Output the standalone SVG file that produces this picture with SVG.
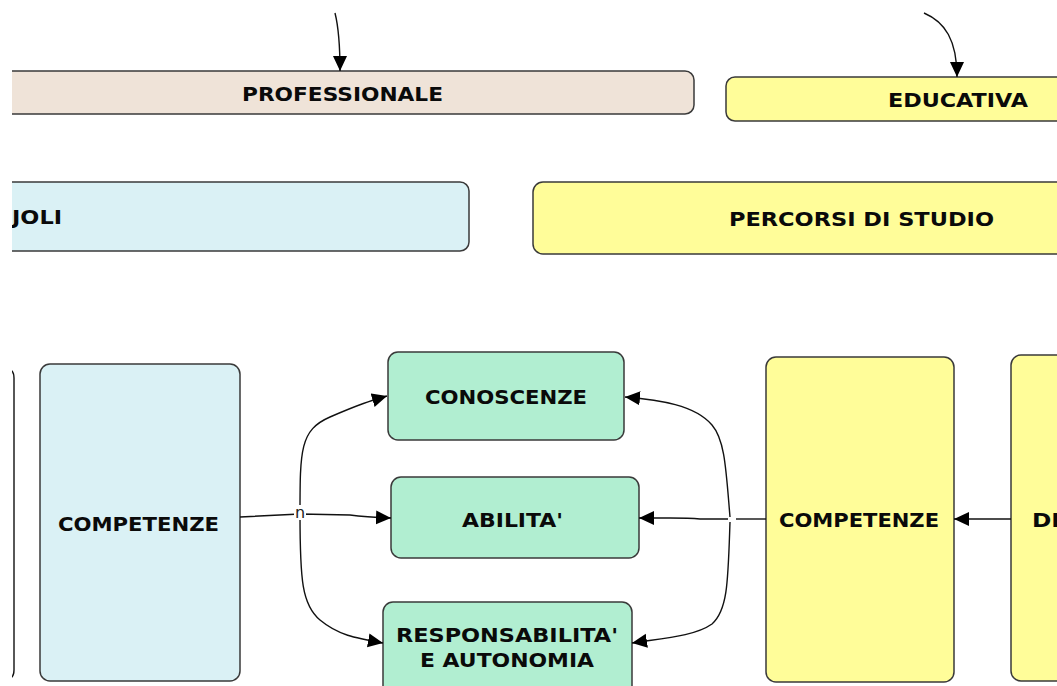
<svg xmlns="http://www.w3.org/2000/svg" width="1057" height="686" viewBox="0 0 1057 686">
<defs>
<clipPath id="clip"><rect x="12" y="0" width="1045" height="686"/></clipPath>
<marker id="arr" markerUnits="userSpaceOnUse" markerWidth="16" markerHeight="16" refX="15" refY="7" orient="auto">
<path d="M0,0 L15,7 L0,14 z" fill="#000"/>
</marker>
<style>
.box{stroke:#3a3a3a;stroke-width:1.5}
.beige{fill:#EFE3D8}
.blue{fill:#DAF1F5}
.yellow{fill:#FFFD99}
.mint{fill:#B1EED1}
.t{font-family:"DejaVu Sans",Verdana,sans-serif;font-weight:bold;font-size:20px;fill:#0a0a0a;text-anchor:middle}
.c{fill:none;stroke:#111;stroke-width:1.4}
</style>
</defs>
<rect width="1057" height="686" fill="#fff"/>
<g clip-path="url(#clip)">
<g id="professionale"><rect class="box beige" x="-100" y="71" width="794" height="43" rx="9"/><text class="t" x="342.5" y="101" textLength="201" lengthAdjust="spacingAndGlyphs">PROFESSIONALE</text></g>
<g id="educativa"><rect class="box yellow" x="726" y="77" width="400" height="44" rx="9"/><text class="t" x="958" y="107" textLength="140" lengthAdjust="spacingAndGlyphs">EDUCATIVA</text></g>
<g id="ruoli"><rect class="box blue" x="-100" y="182" width="569" height="69" rx="9"/><text class="t" x="37" y="224" textLength="50" lengthAdjust="spacingAndGlyphs">JOLI</text></g>
<g id="percorsi"><rect class="box yellow" x="533" y="182" width="600" height="72" rx="10"/><text class="t" x="861.5" y="226" textLength="265" lengthAdjust="spacingAndGlyphs">PERCORSI DI STUDIO</text></g>
<g id="leftcut"><path class="c" d="M8 369 Q14 370 14 378 L14 670 Q14 678 8 679"/></g>
<g id="competenze1"><rect class="box blue" x="40" y="364" width="200" height="317" rx="10"/><text class="t" x="138.5" y="531" textLength="161" lengthAdjust="spacingAndGlyphs">COMPETENZE</text></g>
<g id="conoscenze"><rect class="box mint" x="388" y="352" width="236" height="88" rx="10"/><text class="t" x="506" y="404" textLength="162" lengthAdjust="spacingAndGlyphs">CONOSCENZE</text></g>
<g id="abilita"><rect class="box mint" x="391" y="477" width="248" height="81" rx="10"/><text class="t" x="512.5" y="527" textLength="101" lengthAdjust="spacingAndGlyphs">ABILITA'</text></g>
<g id="responsabilita"><rect class="box mint" x="383" y="602" width="249" height="100" rx="10"/><text class="t" x="507" y="642" textLength="222" lengthAdjust="spacingAndGlyphs">RESPONSABILITA'</text><text class="t" x="507" y="667" textLength="174" lengthAdjust="spacingAndGlyphs">E AUTONOMIA</text></g>
<g id="competenze2"><rect class="box yellow" x="766" y="357" width="188" height="325" rx="10"/><text class="t" x="859" y="527" textLength="160" lengthAdjust="spacingAndGlyphs">COMPETENZE</text></g>
<g id="di"><rect class="box yellow" x="1011" y="355" width="200" height="326" rx="10"/><text class="t" x="1032" y="527" style="text-anchor:start" textLength="28" lengthAdjust="spacingAndGlyphs">DI</text></g>
<g id="connectors">
<path class="c" d="M335 13 C338 25 340 40 340 71" marker-end="url(#arr)"/>
<path class="c" d="M924 13 C945 22 957 40 957 77" marker-end="url(#arr)"/>
<path class="c" d="M240 517 L300 514 L350 515 Q365 517 391 518" marker-end="url(#arr)"/>
<path class="c" d="M300 514 C300 450 300 430 330 417 S370 401 387 396" marker-end="url(#arr)"/>
<path class="c" d="M300 514 C300 580 302 605 320 620 S355 638 383 643" marker-end="url(#arr)"/>
<path class="c" d="M766 519 L736 519"/>
<path class="c" d="M728 519 L700 519 Q690 518 670 518 L639 518" marker-end="url(#arr)"/>
<path class="c" d="M730 517 C726 470 725 440 712 425 C695 405 660 400 625 397" marker-end="url(#arr)"/>
<path class="c" d="M730 522 C728 580 728 610 712 624 C695 636 665 638 632 643" marker-end="url(#arr)"/>
<path class="c" d="M1011 519 L954 519" marker-end="url(#arr)"/>
<rect x="294" y="505" width="12" height="15" fill="#fff"/>
<text x="300" y="518" style="font-family:'DejaVu Sans',sans-serif;font-size:16px;fill:#222;text-anchor:middle">n</text>
</g>
</g>
</svg>
